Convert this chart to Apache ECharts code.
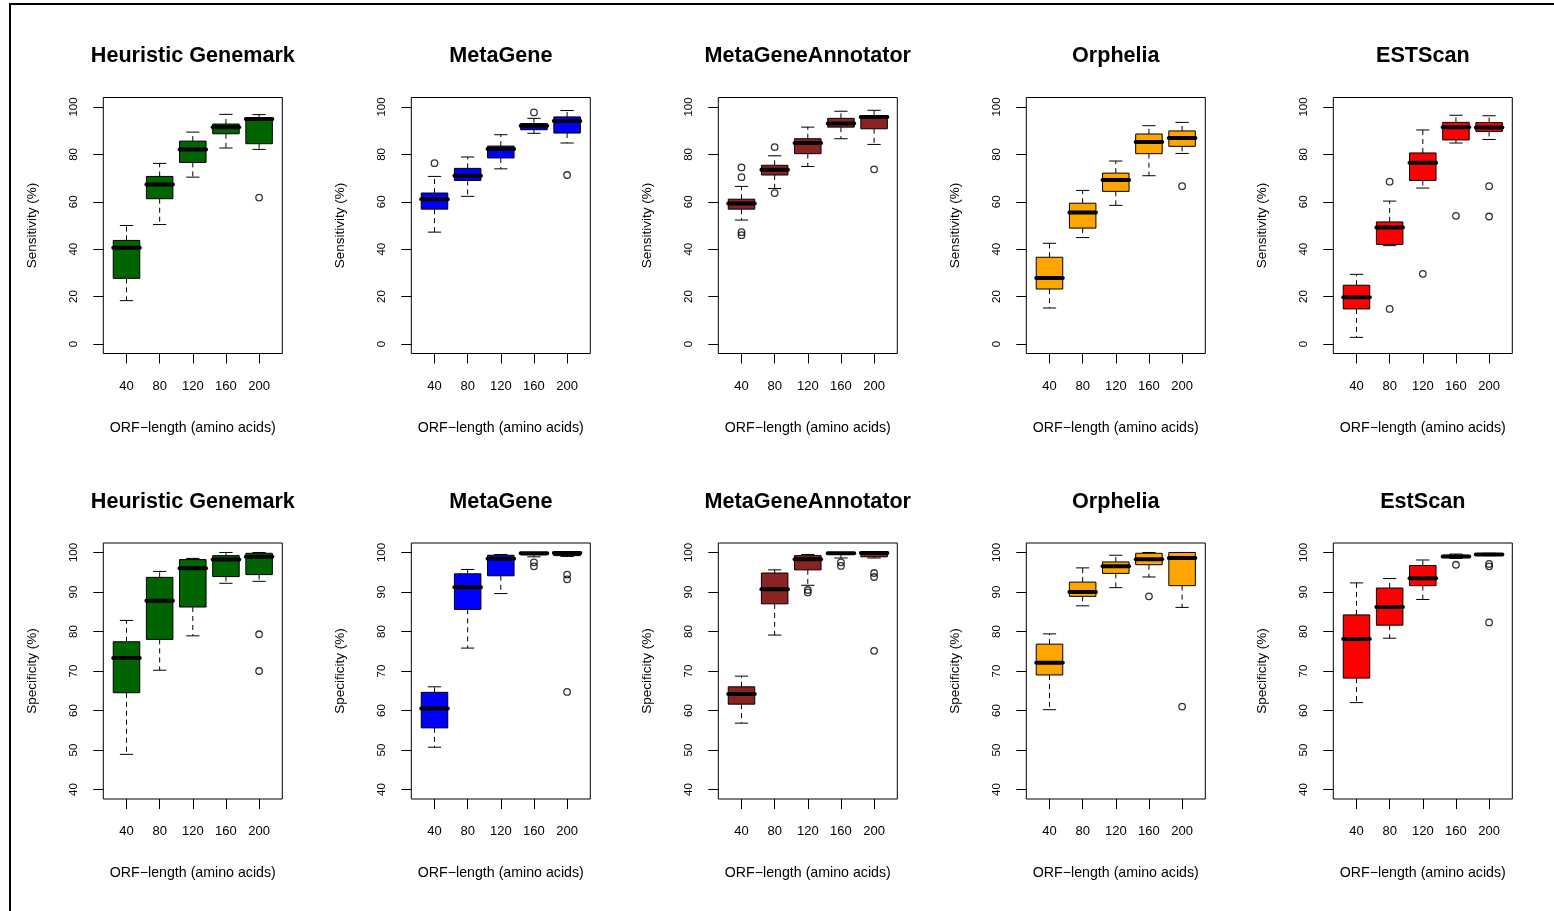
<!DOCTYPE html>
<html><head><meta charset="utf-8">
<script src="https://cdn.jsdelivr.net/npm/echarts@6/dist/echarts.min.js"></script>
<style>html,body{margin:0;padding:0;background:#fff}#c{width:1554px;height:911px}</style>
</head><body><div id="c"></div>
<script>
const categories = ['40', '80', '120', '160', '200'];
const topTitles = ['Heuristic Genemark', 'MetaGene', 'MetaGeneAnnotator', 'Orphelia', 'ESTScan'];
const bottomTitles = ['Heuristic Genemark', 'MetaGene', 'MetaGeneAnnotator', 'Orphelia', 'EstScan'];
const panelColors = ['#006400', '#0000FF', '#8B2323', '#FFA500', '#FF0000'];
const xAxisName = 'ORF\u2212length (amino acids)';
const topYName = 'Sensitivity (%)';
const bottomYName = 'Specificity (%)';
const topYTicks = [0, 20, 40, 60, 80, 100];
const bottomYTicks = [40, 50, 60, 70, 80, 90, 100];

// each box: [lower whisker, Q1, median, Q3, upper whisker]; outliers: [category number, value]
const sensGenemark = [[18.3, 27.7, 40.6, 43.7, 50.0], [50.4, 61.3, 67.3, 70.7, 76.2], [70.4, 76.6, 82.1, 85.6, 89.4], [82.7, 88.7, 91.5, 92.8, 96.9], [82.1, 84.5, 94.9, 95.5, 96.8]];
const sensGenemarkOut = [[5, 61.8]];
const sensMetaGene = [[47.2, 56.9, 61.1, 63.7, 70.7], [62.3, 69.0, 71.0, 74.1, 78.9], [73.9, 78.5, 82.3, 83.5, 88.3], [88.9, 90.4, 92.1, 93.0, 95.2], [84.8, 89.0, 94.1, 95.8, 98.5]];
const sensMetaGeneOut = [[1, 76.3], [4, 97.7], [5, 71.3]];
const sensMGA = [[52.3, 56.9, 59.3, 61.1, 66.5], [65.6, 71.3, 73.5, 75.4, 79.4], [74.9, 80.3, 84.8, 86.6, 91.5], [86.6, 91.5, 93.0, 95.2, 98.2], [84.2, 90.8, 95.8, 96.3, 98.6]];
const sensMGAOut = [[1, 74.5], [1, 70.4], [1, 47.2], [1, 45.9], [2, 83.1], [2, 63.7], [5, 73.7]];
const sensOrphelia = [[15.2, 23.2, 27.9, 36.6, 42.5], [44.9, 48.9, 55.5, 59.4, 64.8], [58.5, 64.4, 69.2, 72.1, 77.2], [71.0, 80.3, 85.2, 88.6, 92.1], [80.4, 83.4, 86.9, 89.9, 93.5]];
const sensOrpheliaOut = [[5, 66.6]];
const sensESTScan = [[2.8, 14.8, 19.7, 24.8, 29.4], [41.5, 42.0, 49.2, 51.5, 60.3], [65.8, 69.0, 76.5, 80.6, 90.3], [84.8, 86.1, 91.5, 93.5, 96.5], [86.3, 89.7, 91.3, 93.4, 96.3]];
const sensESTScanOut = [[2, 68.5], [2, 14.8], [3, 29.6], [4, 54.1], [5, 66.6], [5, 53.8]];

const specGenemark = [[48.9, 64.5, 73.3, 77.4, 82.8], [70.2, 78.0, 87.8, 93.7, 95.2], [78.9, 86.2, 96.0, 98.2, 98.5], [92.2, 93.9, 98.2, 99.2, 100], [92.7, 94.4, 98.9, 99.8, 100]];
const specGenemarkOut = [[5, 79.3], [5, 70.0]];
const specMetaGene = [[50.7, 55.6, 60.5, 64.6, 66.0], [75.8, 85.6, 91.2, 94.6, 95.7], [89.6, 94.1, 98.4, 99.3, 99.5], [98.9, 99.4, 99.8, 100, 100], [99.0, 99.2, 99.9, 100, 100]];
const specMetaGeneOut = [[4, 97.5], [4, 96.5], [5, 94.4], [5, 93.2], [5, 64.7]];
const specMGA = [[56.8, 61.6, 64.2, 66.0, 68.7], [79.1, 87.0, 90.7, 94.8, 95.6], [91.7, 95.6, 98.3, 99.2, 99.5], [98.6, 99.5, 99.8, 100, 100], [98.6, 98.9, 99.9, 100, 100]];
const specMGAOut = [[3, 90.5], [3, 89.9], [4, 97.5], [4, 96.6], [5, 94.8], [5, 93.8], [5, 75.1]];
const specOrphelia = [[60.2, 69.0, 72.1, 76.8, 79.4], [86.5, 88.9, 90.0, 92.5, 96.1], [91.1, 94.7, 96.5, 97.6, 99.3], [93.8, 96.9, 98.3, 99.8, 100], [86.1, 91.6, 98.6, 100, 100]];
const specOrpheliaOut = [[4, 88.9], [5, 61.0]];
const specEstScan = [[62.0, 68.2, 78.1, 84.2, 92.3], [78.3, 81.6, 86.2, 91.0, 93.4], [88.1, 91.6, 93.5, 96.7, 98.1], [98.5, 98.7, 99.0, 99.3, 99.6], [99.2, 99.3, 99.5, 99.7, 99.8]];
const specEstScanOut = [[4, 96.9], [5, 97.1], [5, 96.5], [5, 82.3]];

const topBoxes = [sensGenemark, sensMetaGene, sensMGA, sensOrphelia, sensESTScan];
const topOut = [sensGenemarkOut, sensMetaGeneOut, sensMGAOut, sensOrpheliaOut, sensESTScanOut];
const bottomBoxes = [specGenemark, specMetaGene, specMGA, specOrphelia, specEstScan];
const bottomOut = [specGenemarkOut, specMetaGeneOut, specMGAOut, specOrpheliaOut, specEstScanOut];

const FONT = '"Liberation Sans", Arial, Helvetica, sans-serif';
const colLefts = [103.3, 411.3, 718.3, 1026.3, 1333.3];
const rowTops = [97.5, 543];
const plotW = 179, plotH = 256;

const chart = echarts.init(document.getElementById('c'), null, {renderer: 'canvas'});
const grids = [], xAxes = [], yAxes = [], series = [], graphics = [];

function makeRender(color) {
  return function (params, api) {
    const x = api.value(0);
    const lo = api.value(1), q1 = api.value(2), med = api.value(3), q3 = api.value(4), hi = api.value(5);
    const hw = 0.4, sw = 0.2;
    const pLo = api.coord([x, lo]), pQ1 = api.coord([x, q1]), pMed = api.coord([x, med]);
    const pQ3 = api.coord([x, q3]), pHi = api.coord([x, hi]);
    const xl = api.coord([x - hw, q1])[0], xr = api.coord([x + hw, q1])[0];
    const sl = api.coord([x - sw, q1])[0], sr = api.coord([x + sw, q1])[0];
    const cx = pMed[0];
    const ls = {stroke: '#000', lineWidth: 1};
    const dash = {stroke: '#000', lineWidth: 1, lineDash: [5, 4]};
    return {
      type: 'group',
      children: [
        {type: 'line', shape: {x1: cx, y1: pQ1[1], x2: cx, y2: pLo[1]}, style: dash},
        {type: 'line', shape: {x1: cx, y1: pQ3[1], x2: cx, y2: pHi[1]}, style: dash},
        {type: 'line', shape: {x1: sl, y1: pLo[1], x2: sr, y2: pLo[1]}, style: ls},
        {type: 'line', shape: {x1: sl, y1: pHi[1], x2: sr, y2: pHi[1]}, style: ls},
        {type: 'rect', shape: {x: xl, y: pQ3[1], width: xr - xl, height: pQ1[1] - pQ3[1]}, style: {fill: color, stroke: '#000', lineWidth: 1}},
        {type: 'line', shape: {x1: xl, y1: pMed[1], x2: xr, y2: pMed[1]}, style: {stroke: '#000', lineWidth: 4, lineCap: 'round'}}
      ]
    };
  };
}

for (let r = 0; r < 2; r++) {
  for (let c = 0; c < 5; c++) {
    const idx = r * 5 + c;
    const left = colLefts[c], top = rowTops[r];
    grids.push({left: left, top: top, width: plotW, height: plotH, show: true, borderColor: '#000', borderWidth: 1, backgroundColor: 'transparent', containLabel: false});
    xAxes.push({
      gridIndex: idx, type: 'value', min: 0.3, max: 5.7,
      axisLine: {show: false, onZero: false},
      axisTick: {show: true, length: 10, customValues: [1, 2, 3, 4, 5], lineStyle: {color: '#000', width: 1}},
      axisLabel: {show: true, customValues: [1, 2, 3, 4, 5], formatter: v => categories[Math.round(v) - 1], margin: 26, fontSize: 13, color: '#000', fontFamily: FONT},
      splitLine: {show: false},
      name: xAxisName, nameLocation: 'middle', nameGap: 67.5,
      nameTextStyle: {fontSize: 14.2, color: '#000', fontFamily: FONT}
    });
    const ticks = r === 0 ? topYTicks : bottomYTicks;
    yAxes.push({
      gridIndex: idx, type: 'value',
      min: r === 0 ? -4 : 37.6, max: r === 0 ? 104 : 102.4,
      axisLine: {show: false, onZero: false},
      axisTick: {show: true, length: 10, customValues: ticks, lineStyle: {color: '#000', width: 1}},
      axisLabel: {show: true, customValues: ticks, rotate: 90, margin: 23, fontSize: 11.5, color: '#000', fontFamily: FONT},
      splitLine: {show: false},
      name: r === 0 ? topYName : bottomYName, nameLocation: 'middle', nameGap: 64, nameRotate: 90,
      nameTextStyle: {fontSize: 13.5, color: '#000', fontFamily: FONT}
    });
    const boxes = (r === 0 ? topBoxes : bottomBoxes)[c];
    const outs = (r === 0 ? topOut : bottomOut)[c];
    series.push({
      type: 'custom', xAxisIndex: idx, yAxisIndex: idx,
      renderItem: makeRender(panelColors[c]),
      data: boxes.map((b, i) => [i + 1].concat(b)),
      encode: {x: 0, y: [1, 2, 3, 4, 5]},
      silent: true, animation: false, clip: false
    });
    series.push({
      type: 'scatter', xAxisIndex: idx, yAxisIndex: idx,
      data: outs.map(o => [o[0], o[1]]),
      symbol: 'circle', symbolSize: 6.5,
      itemStyle: {color: 'rgba(0,0,0,0)', borderColor: '#000', borderWidth: 1.3},
      silent: true, animation: false
    });
    graphics.push({
      type: 'text',
      x: left + plotW / 2, y: r === 0 ? 56 : 502,
      style: {text: (r === 0 ? topTitles : bottomTitles)[c], font: 'bold 21.6px ' + FONT, fill: '#000', textAlign: 'center', textVerticalAlign: 'middle'},
      silent: true
    });
  }
}

graphics.push({type: 'line', shape: {x1: 9, y1: 4, x2: 1554, y2: 4}, style: {stroke: '#000', lineWidth: 2}, silent: true});
graphics.push({type: 'line', shape: {x1: 10, y1: 3, x2: 10, y2: 911}, style: {stroke: '#000', lineWidth: 2}, silent: true});

chart.setOption({
  animation: false,
  backgroundColor: '#fff',
  grid: grids,
  xAxis: xAxes,
  yAxis: yAxes,
  series: series,
  graphic: {elements: graphics}
});
</script>
</body></html>
